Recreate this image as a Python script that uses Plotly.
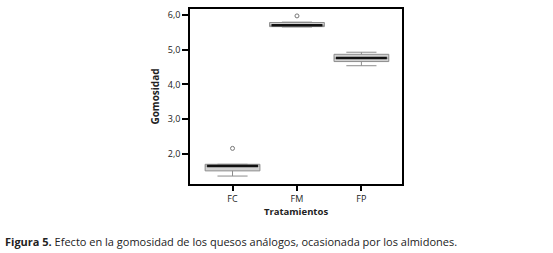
import plotly.graph_objects as go

categories = ["FC", "FM", "FP"]
lower_whisker = [1.35, 5.66, 4.54]
q1 = [1.50, 5.67, 4.66]
median = [1.64, 5.71, 4.76]
q3 = [1.69, 5.79, 4.87]
upper_whisker = [1.69, 5.80, 4.93]
outliers = [2.15, 5.98, None]

ytick_vals = [2.0, 3.0, 4.0, 5.0, 6.0]
ytick_text = ["2,0", "3,0", "4,0", "5,0", "6,0"]

BOX_W = 0.85
FONT = "Open Sans"

fig = go.Figure()
for i, c in enumerate(categories):
    fig.add_trace(go.Box(
        x=[i], q1=[q1[i]], median=[median[i]], q3=[q3[i]],
        lowerfence=[lower_whisker[i]], upperfence=[upper_whisker[i]],
        width=BOX_W, whiskerwidth=0.55,
        fillcolor="#d2d2d2", line=dict(color="#8c8c8c", width=1),
        boxpoints=False, showlegend=False, hoverinfo="skip",
    ))
    # thick median line
    fig.add_trace(go.Scatter(
        x=[i - BOX_W / 2 + 0.03, i + BOX_W / 2 - 0.03], y=[median[i], median[i]],
        mode="lines", line=dict(color="#111111", width=2.5),
        showlegend=False, hoverinfo="skip",
    ))
    if outliers[i] is not None:
        fig.add_trace(go.Scatter(
            x=[i], y=[outliers[i]], mode="markers",
            marker=dict(symbol="circle-open", size=4, color="#777777", line=dict(width=1)),
            showlegend=False, hoverinfo="skip",
        ))

fig.add_annotation(
    text="<b>Figura 5.</b> Efecto en la gomosidad de los quesos análogos, ocasionada por los almidones.",
    xref="paper", yref="paper", x=(3 - 190) / 211.7, y=(184 - 242) / 177,
    xanchor="left", yanchor="middle", showarrow=False,
    font=dict(family=FONT, size=11, color="#222222"),
)

fig.update_layout(
    width=553, height=253,
    margin=dict(l=190, r=151, t=7, b=69),
    paper_bgcolor="white", plot_bgcolor="white",
    font=dict(family=FONT, size=9, color="#222222"),
    xaxis=dict(
        range=[-0.66, 2.63], tickvals=[0, 1, 2], ticktext=categories,
        showgrid=False, zeroline=False, showline=True, linecolor="black", linewidth=1.5,
        mirror=True, ticks="outside", ticklen=5, tickcolor="black", tickwidth=1.5,
        title=dict(text="<b>Tratamientos</b>", font=dict(size=9.5), standoff=3),
    ),
    yaxis=dict(
        range=[1.12, 6.18], tickvals=ytick_vals, ticktext=ytick_text,
        showgrid=False, zeroline=False, showline=True, linecolor="black", linewidth=1.5,
        mirror=True, ticks="outside", ticklen=6, tickcolor="black", tickwidth=1.5,
        title=dict(text="<b>Gomosidad</b>", font=dict(size=10), standoff=6),
    ),
)

fig.write_html("out.html", config={"displayModeBar": False},
               post_script="document.body.style.margin='0';")
